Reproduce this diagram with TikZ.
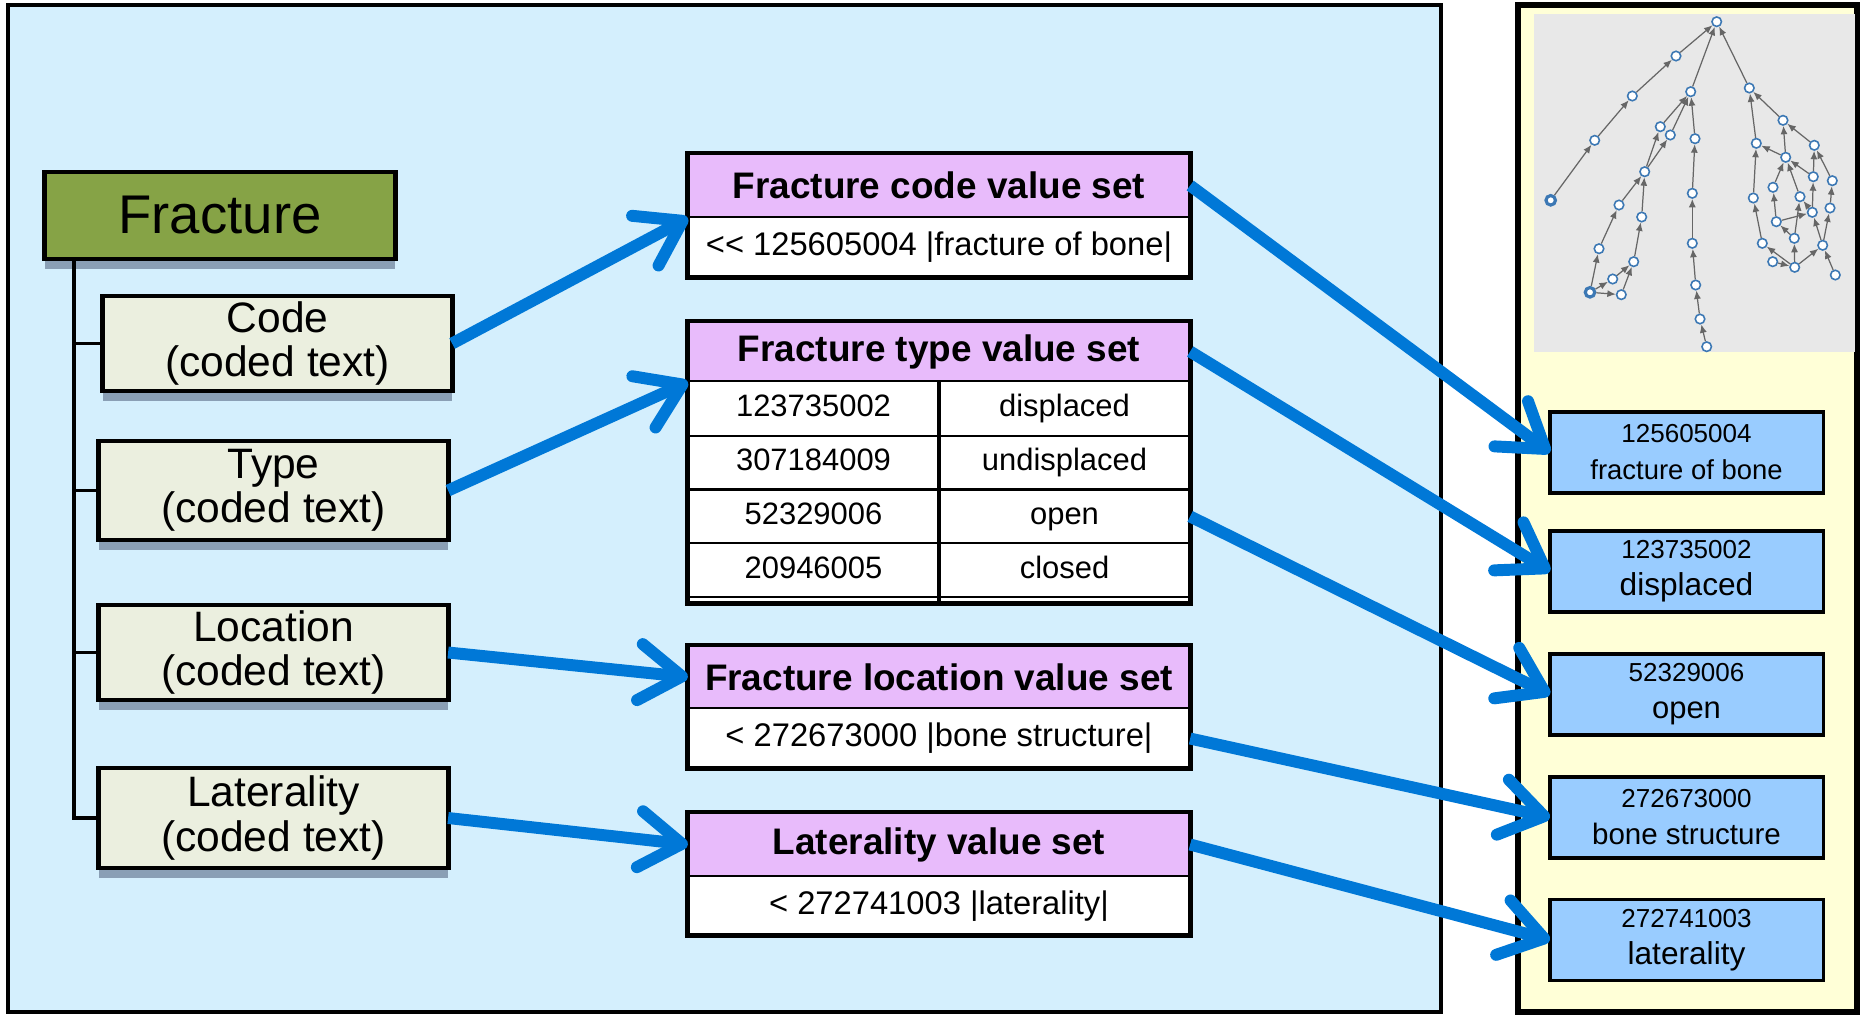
\documentclass[tikz,border=0pt]{standalone}
\usepackage{fontspec}
\setmainfont{Liberation Sans}
\usetikzlibrary{arrows.meta,shadows,positioning}
\definecolor{panelblue}{HTML}{D4EFFD}
\definecolor{panelyellow}{HTML}{FFFFD7}
\definecolor{graphgray}{HTML}{E8E8E8}
\definecolor{classgreen}{HTML}{86A346}
\definecolor{attrfill}{HTML}{EBEFDF}
\definecolor{shadowgray}{HTML}{8A9FB5}
\definecolor{headpurple}{HTML}{E8BBFB}
\definecolor{conceptblue}{HTML}{99CCFF}
\definecolor{arrowblue}{HTML}{0078D7}
\definecolor{gnodeblue}{HTML}{3C78B4}
\tikzset{
  boxshadow/.style={drop shadow={shadow xshift=0pt, shadow yshift=-2.8pt, fill=shadowgray, opacity=1}},
  classbox/.style={draw, line width=1.4pt, outer sep=0pt, fill=classgreen, minimum width=3.5cm, minimum height=0.87cm, font=\fontsize{15.5}{17}\selectfont, boxshadow},
  attrbox/.style={draw, line width=1.4pt, outer sep=0pt, fill=attrfill, minimum width=3.49cm, align=center, inner sep=0pt, font=\fontsize{12.1}{12.6}\selectfont, boxshadow},
  vshead/.style={draw, line width=1pt, outer sep=0pt, inner sep=0pt, fill=headpurple, minimum width=5.02cm, font=\bfseries\fontsize{10.5}{12}\selectfont},
  vsbody/.style={fill=white, outer sep=0pt, inner sep=0pt, minimum width=5.02cm, font=\fontsize{9.3}{10}\selectfont},
  vscell/.style={outer sep=0pt, inner sep=0pt, minimum width=2.51cm, minimum height=0.5375cm, text height=6.4pt, text depth=1.8pt, font=\fontsize{8.8}{10}\selectfont},
  vsframe/.style={line width=1.4pt},
  treeline/.style={line width=1.1pt},
  concept/.style={draw, line width=0.9pt, outer sep=0pt, fill=conceptblue, minimum width=2.73cm, minimum height=0.81cm, align=center, inner sep=0pt, font=\fontsize{7.4}{10.5}\selectfont},
  bindarrow/.style={draw=arrowblue, line width=3.4pt, -{Straight Barb[length=12pt, width=16pt, line cap=round, line join=round]}},
  gnode/.style={circle, draw=gnodeblue, fill=white, line width=0.45pt, inner sep=0pt, minimum size=0.095cm},
  gedge/.style={draw=black!60, line width=0.35pt, -{Latex[length=2.4pt, width=2pt]}},
}
\begin{document}
\begin{tikzpicture}[x=0.01cm, y=-0.01cm]
	\useasboundingbox (0,0) rectangle (1860,1015);
	% panels
	\draw[line width=1.4pt, fill=panelblue] (8,5) rectangle (1441,1012);
	\draw[line width=1.6pt, fill=panelyellow] (1518,5) rectangle (1857,1012);
	\fill[graphgray] (1534,14) rectangle (1855,352);
	% archetype tree
	\node[classbox] (fracture) at (220,215.5) {Fracture};
	\node[attrbox, minimum height=0.95cm] (code) at (277.5,343.5) {Code\\(coded text)};
	\node[attrbox, minimum height=0.99cm] (type) at (273.5,490.5) {Type\\(coded text)};
	\node[attrbox, minimum height=0.95cm] (loc) at (273.5,652.5) {Location\\(coded text)};
	\node[attrbox, minimum height=1.00cm] (lat) at (273.5,818) {Laterality\\(coded text)};
	\coordinate (trunk) at ([xshift=0.29cm]fracture.south west);
	\draw[treeline] (trunk) |- (lat.west);
	\foreach \n in {code,type,loc}
		\draw[treeline] (trunk |- \n.west) -- (\n.west);
	% value sets
	\node[vshead, minimum height=0.65cm] (codehead) at (939,185.5) {Fracture code value set};
	\node[vsbody, minimum height=0.59cm, below=0pt of codehead] (codebody) {<{}< 125605004 |fracture of bone|};
	\draw[vsframe] (codehead.north west) rectangle (codebody.south east);
	\node[vshead, minimum height=0.61cm] (typehead) at (939,351.5) {Fracture type value set};
	\node[vsbody, minimum height=2.21cm, below=0pt of typehead] (typebody) {};
	\foreach \code/\term [count=\i] in {123735002/displaced, 307184009/undisplaced, 52329006/open, 20946005/closed} {
		\node[vscell] (tcode\i) at (813.5,{382+26.9+(\i-1)*53.75}) {\code};
		\node[vscell] (tterm\i) at (1064.5,{382+26.9+(\i-1)*53.75}) {\term};
		\draw[line width=0.6pt] (tcode\i.south west) -- (tterm\i.south east);
	}
	\draw[line width=1.1pt] (typebody.north) -- (typebody.south);
	\draw[vsframe] (typehead.north west) rectangle (typebody.south east);
	\node[vshead, minimum height=0.64cm] (lochead) at (939,677) {Fracture location value set};
	\node[vsbody, minimum height=0.59cm, below=0pt of lochead] (locbody) {< 272673000 |bone structure|};
	\draw[vsframe] (lochead.north west) rectangle (locbody.south east);
	\node[vshead, minimum height=0.65cm] (lathead) at (939,844.5) {Laterality value set};
	\node[vsbody, minimum height=0.58cm, below=0pt of lathead] (latbody) {< 272741003 |laterality|};
	\draw[vsframe] (lathead.north west) rectangle (latbody.south east);
	% terminology concepts
	\foreach \num/\term/\yy/\sz [count=\i] in {125605004/fracture of bone/452.5/7.8, 123735002/displaced/571.5/9, 52329006/open/694.5/8.8, 272673000/bone structure/817.5/8.4, 272741003/laterality/940/9}
		\node[concept] (concept\i) at (1686.5,\yy) {\num\\{\fontsize{\sz}{10.5}\selectfont\term}};
	% bindings
	\draw[bindarrow] (code.east) -- (codehead.south west);
	\draw[bindarrow] (type.east) -- (typehead.south west);
	\draw[bindarrow] (loc.east) -- (lochead.west);
	\draw[bindarrow] (lat.east) -- (lathead.west);
	\draw[bindarrow] (codehead.east) -- (concept1.west);
	\draw[bindarrow] (typehead.east) -- (concept2.west);
	\draw[bindarrow] (tterm3.east) -- (concept3.west);
	\draw[bindarrow] (locbody.east) -- (concept4.west);
	\draw[bindarrow] (lathead.east) -- (concept5.west);
	% concept hierarchy
	\foreach \n/\x/\y in {g0/1716.7/21.7, a1/1676/56, a2/1632.3/96, a3/1594.7/140.3, b0/1690.7/91.7, b1/1660.3/126.7, b2/1670.3/135, b3/1644.7/171.7, b4/1619/205, b5/1641.7/217, b6/1599/248.7, b7/1633.7/261.7, b8/1612.7/279, b10/1621.3/294.7, c1/1695/138.7, c2/1692.3/193.3, c3/1692.3/243.3, c4/1695.7/285, c5/1700/319, c6/1706.7/346.7, d0/1749.3/88, d1/1783/120.3, d2/1756.3/143.3, d3/1814.3/145.3, d4/1785.7/157.3, d5/1813.3/176.7, d6/1832.3/180.7, d7/1773/187.3, d8/1753.3/198, d9/1800/196.7, d10/1812.3/212.3, d11/1830/208, d12/1776.3/221.7, d13/1794.3/238.3, d14/1762.3/243.3, d15/1822.7/245.3, d16/1772.7/261.7, d17/1794.7/267.3, d18/1835.3/275}
		\node[gnode] (\n) at (\x,\y) {};
	\node[gnode, line width=0.9pt] (a4) at (1550.7,200.3) {};
	\node[gnode, line width=0.9pt] (b9) at (1590,292.3) {};
	\foreach \a/\b in {a4/a3, a3/a2, a2/a1, a1/g0, b0/g0, d0/g0, c1/b0, c2/c1, c3/c2, c4/c3, c5/c4, c6/c5, b1/b0, b2/b0, b3/b1, b3/b2, b4/b3, b5/b3, b6/b4, b7/b5, b9/b6, b9/b8, b9/b10, b8/b7, b10/b7, d2/d0, d1/d0, d8/d2, d4/d2, d3/d1, d4/d1, d5/d3, d6/d3, d7/d4, d9/d4, d5/d4, d10/d5, d11/d6, d10/d9, d12/d7, d12/d10, d13/d9, d13/d12, d14/d8, d15/d10, d15/d11, d17/d14, d17/d13, d17/d15, d16/d17, d18/d15}
		\draw[gedge] (\a) -- (\b);
\end{tikzpicture}
\end{document}
